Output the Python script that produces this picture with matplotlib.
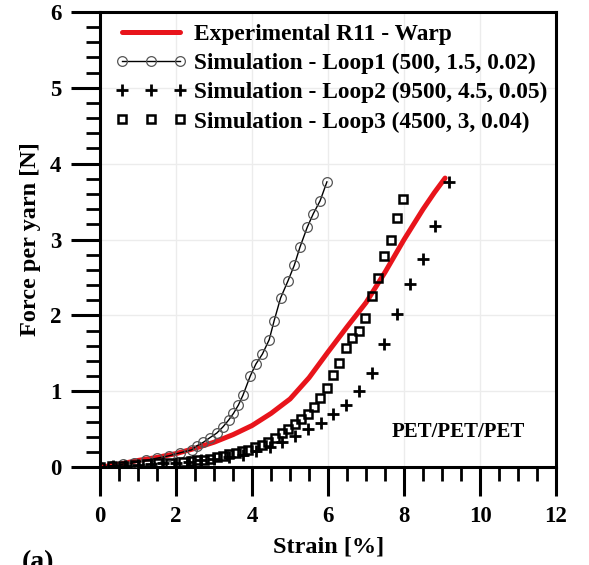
import matplotlib
matplotlib.use("Agg")
import matplotlib.pyplot as plt
from matplotlib.ticker import MultipleLocator

# ---- data ----
exp_x = [0, 0.5, 1.0, 1.5, 2.0, 2.5, 3.0, 3.5, 4.0, 4.5, 5.0, 5.5, 6.0, 6.5, 7.0, 7.5, 8.0, 8.5, 8.8, 9.08]
exp_y = [0, 0.04, 0.09, 0.13, 0.18, 0.25, 0.33, 0.43, 0.55, 0.71, 0.90, 1.18, 1.52, 1.85, 2.17, 2.57, 3.00, 3.40, 3.62, 3.81]

loop1_x = [0, 0.3, 0.6, 0.9, 1.2, 1.5, 1.8, 2.1, 2.41, 2.54, 2.72, 2.89, 3.07, 3.23, 3.38, 3.51, 3.64, 3.76, 3.95, 4.10, 4.27, 4.45, 4.58, 4.75, 4.94, 5.11, 5.26, 5.45, 5.61, 5.79, 5.97]
loop1_y = [0, 0.02, 0.04, 0.06, 0.09, 0.12, 0.15, 0.19, 0.23, 0.28, 0.33, 0.39, 0.45, 0.53, 0.62, 0.71, 0.82, 0.95, 1.20, 1.36, 1.49, 1.68, 1.93, 2.23, 2.45, 2.66, 2.90, 3.16, 3.34, 3.51, 3.76]

loop2_x = [0, 0.33, 0.66, 1.0, 1.33, 1.66, 2.0, 2.33, 2.66, 3.0, 3.4, 3.76, 4.11, 4.46, 4.78, 5.12, 5.46, 5.81, 6.13, 6.46, 6.81, 7.15, 7.48, 7.81, 8.16, 8.49, 8.82, 9.17]
loop2_y = [0, 0.01, 0.02, 0.03, 0.04, 0.05, 0.06, 0.07, 0.09, 0.11, 0.13, 0.16, 0.21, 0.27, 0.33, 0.41, 0.50, 0.58, 0.70, 0.82, 1.00, 1.24, 1.62, 2.02, 2.41, 2.74, 3.18, 3.76]

loop3_x = [0, 0.3, 0.6, 0.92, 1.23, 1.53, 1.84, 2.19, 2.40, 2.56, 2.74, 2.89, 3.07, 3.24, 3.40, 3.58, 3.73, 3.90, 4.08, 4.25, 4.43, 4.61, 4.78, 4.95, 5.12, 5.29, 5.47, 5.63, 5.80, 5.96, 6.12, 6.30, 6.47, 6.63, 6.81, 6.98, 7.15, 7.31, 7.48, 7.65, 7.81, 7.98]
loop3_y = [0, 0.01, 0.02, 0.03, 0.04, 0.05, 0.06, 0.07, 0.08, 0.09, 0.10, 0.11, 0.13, 0.15, 0.17, 0.19, 0.21, 0.23, 0.27, 0.29, 0.33, 0.38, 0.45, 0.51, 0.57, 0.63, 0.70, 0.80, 0.91, 1.05, 1.21, 1.37, 1.57, 1.70, 1.79, 1.97, 2.25, 2.50, 2.78, 2.99, 3.29, 3.53]

labels = ["Experimental R11 - Warp",
          "Simulation - Loop1 (500, 1.5, 0.02)",
          "Simulation - Loop2 (9500, 4.5, 0.05)",
          "Simulation - Loop3 (4500, 3, 0.04)"]
x_ticks = [0, 2, 4, 6, 8, 10, 12]
y_ticks = [0, 1, 2, 3, 4, 5, 6]

plt.rcParams['font.family'] = ['Liberation Serif', 'DejaVu Serif']
plt.rcParams['font.weight'] = 'bold'

fig = plt.figure(figsize=(5.89, 5.65), dpi=100)
ax = fig.add_axes([0.170, 0.173, 0.774, 0.806])

ax.plot(exp_x, exp_y, color='#e8141b', lw=3.6, label=labels[0], zorder=3,
        solid_capstyle='round', solid_joinstyle='round')
ax.plot(loop1_x, loop1_y, color='black', lw=1.0, marker='o', ms=7, mfc='none',
        mec='#555555', mew=0.9, label=labels[1], zorder=4)
ax.plot(loop2_x, loop2_y, ls='none', marker='+', ms=8, mew=2.0, color='black',
        label=labels[2], zorder=4)
ax.plot(loop3_x, loop3_y, ls='none', marker='s', ms=5.5, mfc='none', mew=1.8,
        mec='black', label=labels[3], zorder=4)

ax.set_xlim(0, 12)
ax.set_ylim(0, 6)
ax.set_xticks(x_ticks)
ax.set_yticks(y_ticks)
ax.xaxis.set_minor_locator(MultipleLocator(0.5))
ax.yaxis.set_minor_locator(MultipleLocator(0.2))
ax.tick_params(which='major', direction='out', length=21, width=2.2, labelsize=16.5, pad=7)
ax.tick_params(which='minor', direction='out', length=10, width=2.0)
for s in ax.spines.values():
    s.set_linewidth(2.2)
ax.grid(True, which='major', color='#ececec', lw=1.0, zorder=0)

ax.set_xlabel("Strain [%]", fontsize=17.5, fontweight='bold', labelpad=7)
ax.set_ylabel("Force per yarn [N]", fontsize=17.5, fontweight='bold', labelpad=6)

leg = ax.legend(loc='upper left', bbox_to_anchor=(0.012, 0.995), frameon=False,
                fontsize=16.8, handlelength=3.1, handletextpad=0.3, numpoints=3,
                labelspacing=0.34, borderaxespad=0.0, borderpad=0.4)
for t in leg.get_texts():
    t.set_fontweight('bold')

ax.text(0.785, 0.077, "PET/PET/PET", transform=ax.transAxes, fontsize=15,
        fontweight='bold', ha='center', va='center')

fig.text(0.037, 0.027, "(a)", fontsize=20, fontweight='bold', va='top', ha='left')

fig.savefig("out.png", dpi=100)
